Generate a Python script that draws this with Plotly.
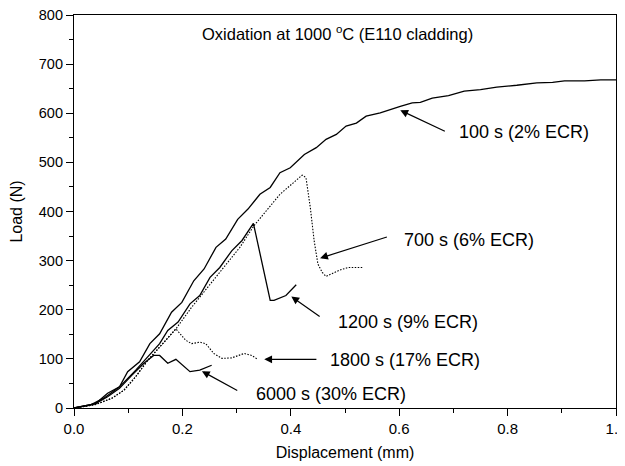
import plotly.graph_objects as go

# ---- data ----
x_100 = [0.0, 0.04, 0.062, 0.084, 0.099, 0.121, 0.14, 0.158, 0.18, 0.199, 0.221, 0.24, 0.262, 0.28,
         0.302, 0.321, 0.343, 0.362, 0.38, 0.399, 0.425, 0.447, 0.465, 0.484, 0.502, 0.521, 0.539,
         0.565, 0.602, 0.624, 0.639, 0.661, 0.691, 0.72, 0.75, 0.78, 0.817, 0.854, 0.883, 0.905,
         0.942, 0.972, 1.0]
y_100 = [0, 9, 30, 43, 74, 94, 131, 151, 195, 215, 259, 283, 327, 344,
         384, 405, 435, 449, 479, 489, 516, 530, 547, 557, 574, 580, 594,
         601, 614, 621, 622, 631, 636, 645, 648, 653, 657, 662, 663, 666,
         666, 668, 668]

x_700 = [0.0, 0.04, 0.07, 0.092, 0.114, 0.136, 0.158, 0.188, 0.217, 0.247, 0.277, 0.306, 0.332,
         0.38, 0.421, 0.428, 0.436, 0.443, 0.45, 0.458, 0.465, 0.476, 0.491, 0.506, 0.532]
y_700 = [0, 7, 20, 36, 64, 97, 124, 161, 205, 246, 286, 327, 371,
         435, 474, 469, 408, 341, 293, 276, 268, 273, 281, 286, 286]

x_1200 = [0.0, 0.03, 0.055, 0.084, 0.114, 0.136, 0.158, 0.173, 0.192, 0.214, 0.232, 0.251, 0.269,
          0.291, 0.31, 0.331, 0.362, 0.369, 0.391, 0.41]
y_1200 = [0, 6, 20, 43, 77, 104, 131, 158, 175, 212, 229, 266, 286,
          320, 341, 376, 219, 219, 229, 251]

x_1800 = [0.0, 0.04, 0.07, 0.092, 0.114, 0.136, 0.158, 0.188, 0.206, 0.217, 0.232, 0.243, 0.258,
          0.273, 0.291, 0.314, 0.328, 0.339]
y_1800 = [0, 7, 20, 36, 64, 97, 124, 161, 138, 131, 134, 131, 111,
          101, 102, 111, 107, 99]

x_6000 = [0.0, 0.04, 0.062, 0.084, 0.107, 0.129, 0.147, 0.158, 0.173, 0.188, 0.214, 0.232, 0.254]
y_6000 = [0, 9, 23, 40, 67, 91, 107, 107, 91, 99, 74, 77, 87]

labels = ["100 s (2% ECR)", "700 s (6% ECR)", "1200 s (9% ECR)", "1800 s (17% ECR)", "6000 s (30% ECR)"]
label_x = [0.706, 0.606, 0.484, 0.469, 0.332]
label_y = [562, 342, 175, 97, 28]
arrow_tip_x = [0.602, 0.454, 0.401, 0.351, 0.236]
arrow_tip_y = [606, 305, 227, 99, 75]
arrow_tail_x = [0.687, 0.58, 0.456, 0.45, 0.304]
arrow_tail_y = [562, 349, 184, 99, 34]

title_text = "Oxidation at 1000 <sup>o</sup>C (E110 cladding)"

FONT = "Liberation Sans, Arial, sans-serif"

fig = go.Figure()
solid = dict(color="black", width=1.3)
dotted = dict(color="black", width=1.1, dash="1.5px,1.5px")
fig.add_trace(go.Scatter(x=x_100, y=y_100, mode="lines", line=solid, showlegend=False))
fig.add_trace(go.Scatter(x=x_700, y=y_700, mode="lines", line=dotted, showlegend=False))
fig.add_trace(go.Scatter(x=x_1200, y=y_1200, mode="lines", line=solid, showlegend=False))
fig.add_trace(go.Scatter(x=x_1800, y=y_1800, mode="lines", line=dotted, showlegend=False))
fig.add_trace(go.Scatter(x=x_6000, y=y_6000, mode="lines", line=solid, showlegend=False))

anns = []
for i in range(len(labels)):
    anns.append(dict(x=arrow_tip_x[i], y=arrow_tip_y[i], ax=arrow_tail_x[i], ay=arrow_tail_y[i],
                     xref="x", yref="y", axref="x", ayref="y", text="", showarrow=True,
                     arrowhead=2, arrowsize=1.3, arrowwidth=1.2, arrowcolor="black"))
    anns.append(dict(x=label_x[i], y=label_y[i], xref="x", yref="y", text=labels[i],
                     showarrow=False, xanchor="left", yanchor="middle",
                     font=dict(family=FONT, size=18, color="black")))
anns.append(dict(x=0.487, y=763, xref="x", yref="y", text=title_text, showarrow=False,
                 xanchor="center", yanchor="middle",
                 font=dict(family=FONT, size=16.5, color="black")))

# the page body adds an 8px offset, so the figure is 8px smaller on each side
fig.update_layout(
    width=617, height=458,
    margin=dict(l=66, r=9, t=7, b=58),
    plot_bgcolor="white", paper_bgcolor="white",
    font=dict(family=FONT, size=15, color="black"),
    annotations=anns,
    showlegend=False,
)
fig.update_xaxes(range=[0, 1.0], tickmode="linear", tick0=0, dtick=0.2, tickformat=".1f",
                 automargin=False, tickfont=dict(size=15), ticklabeloverflow="allow",
                 showline=True, linecolor="black", linewidth=1.2, mirror=True,
                 ticks="outside", ticklen=7, tickwidth=1, tickcolor="black",
                 minor=dict(ticks="outside", ticklen=4, dtick=0.1, tickcolor="black", tickwidth=1),
                 showgrid=False, zeroline=False,
                 title=dict(text="Displacement (mm)", font=dict(size=16), standoff=10))
fig.update_yaxes(range=[0, 800], tickmode="linear", tick0=0, dtick=100,
                 automargin=False, tickfont=dict(size=14.5), ticklabeloverflow="allow",
                 showline=True, linecolor="black", linewidth=1.2, mirror=True,
                 ticks="outside", ticklen=7, tickwidth=1, tickcolor="black",
                 minor=dict(ticks="outside", ticklen=4, dtick=50, tickcolor="black", tickwidth=1),
                 showgrid=False, zeroline=False,
                 title=dict(text="Load (N)", font=dict(size=16), standoff=12))

fig.write_html("out.html")
